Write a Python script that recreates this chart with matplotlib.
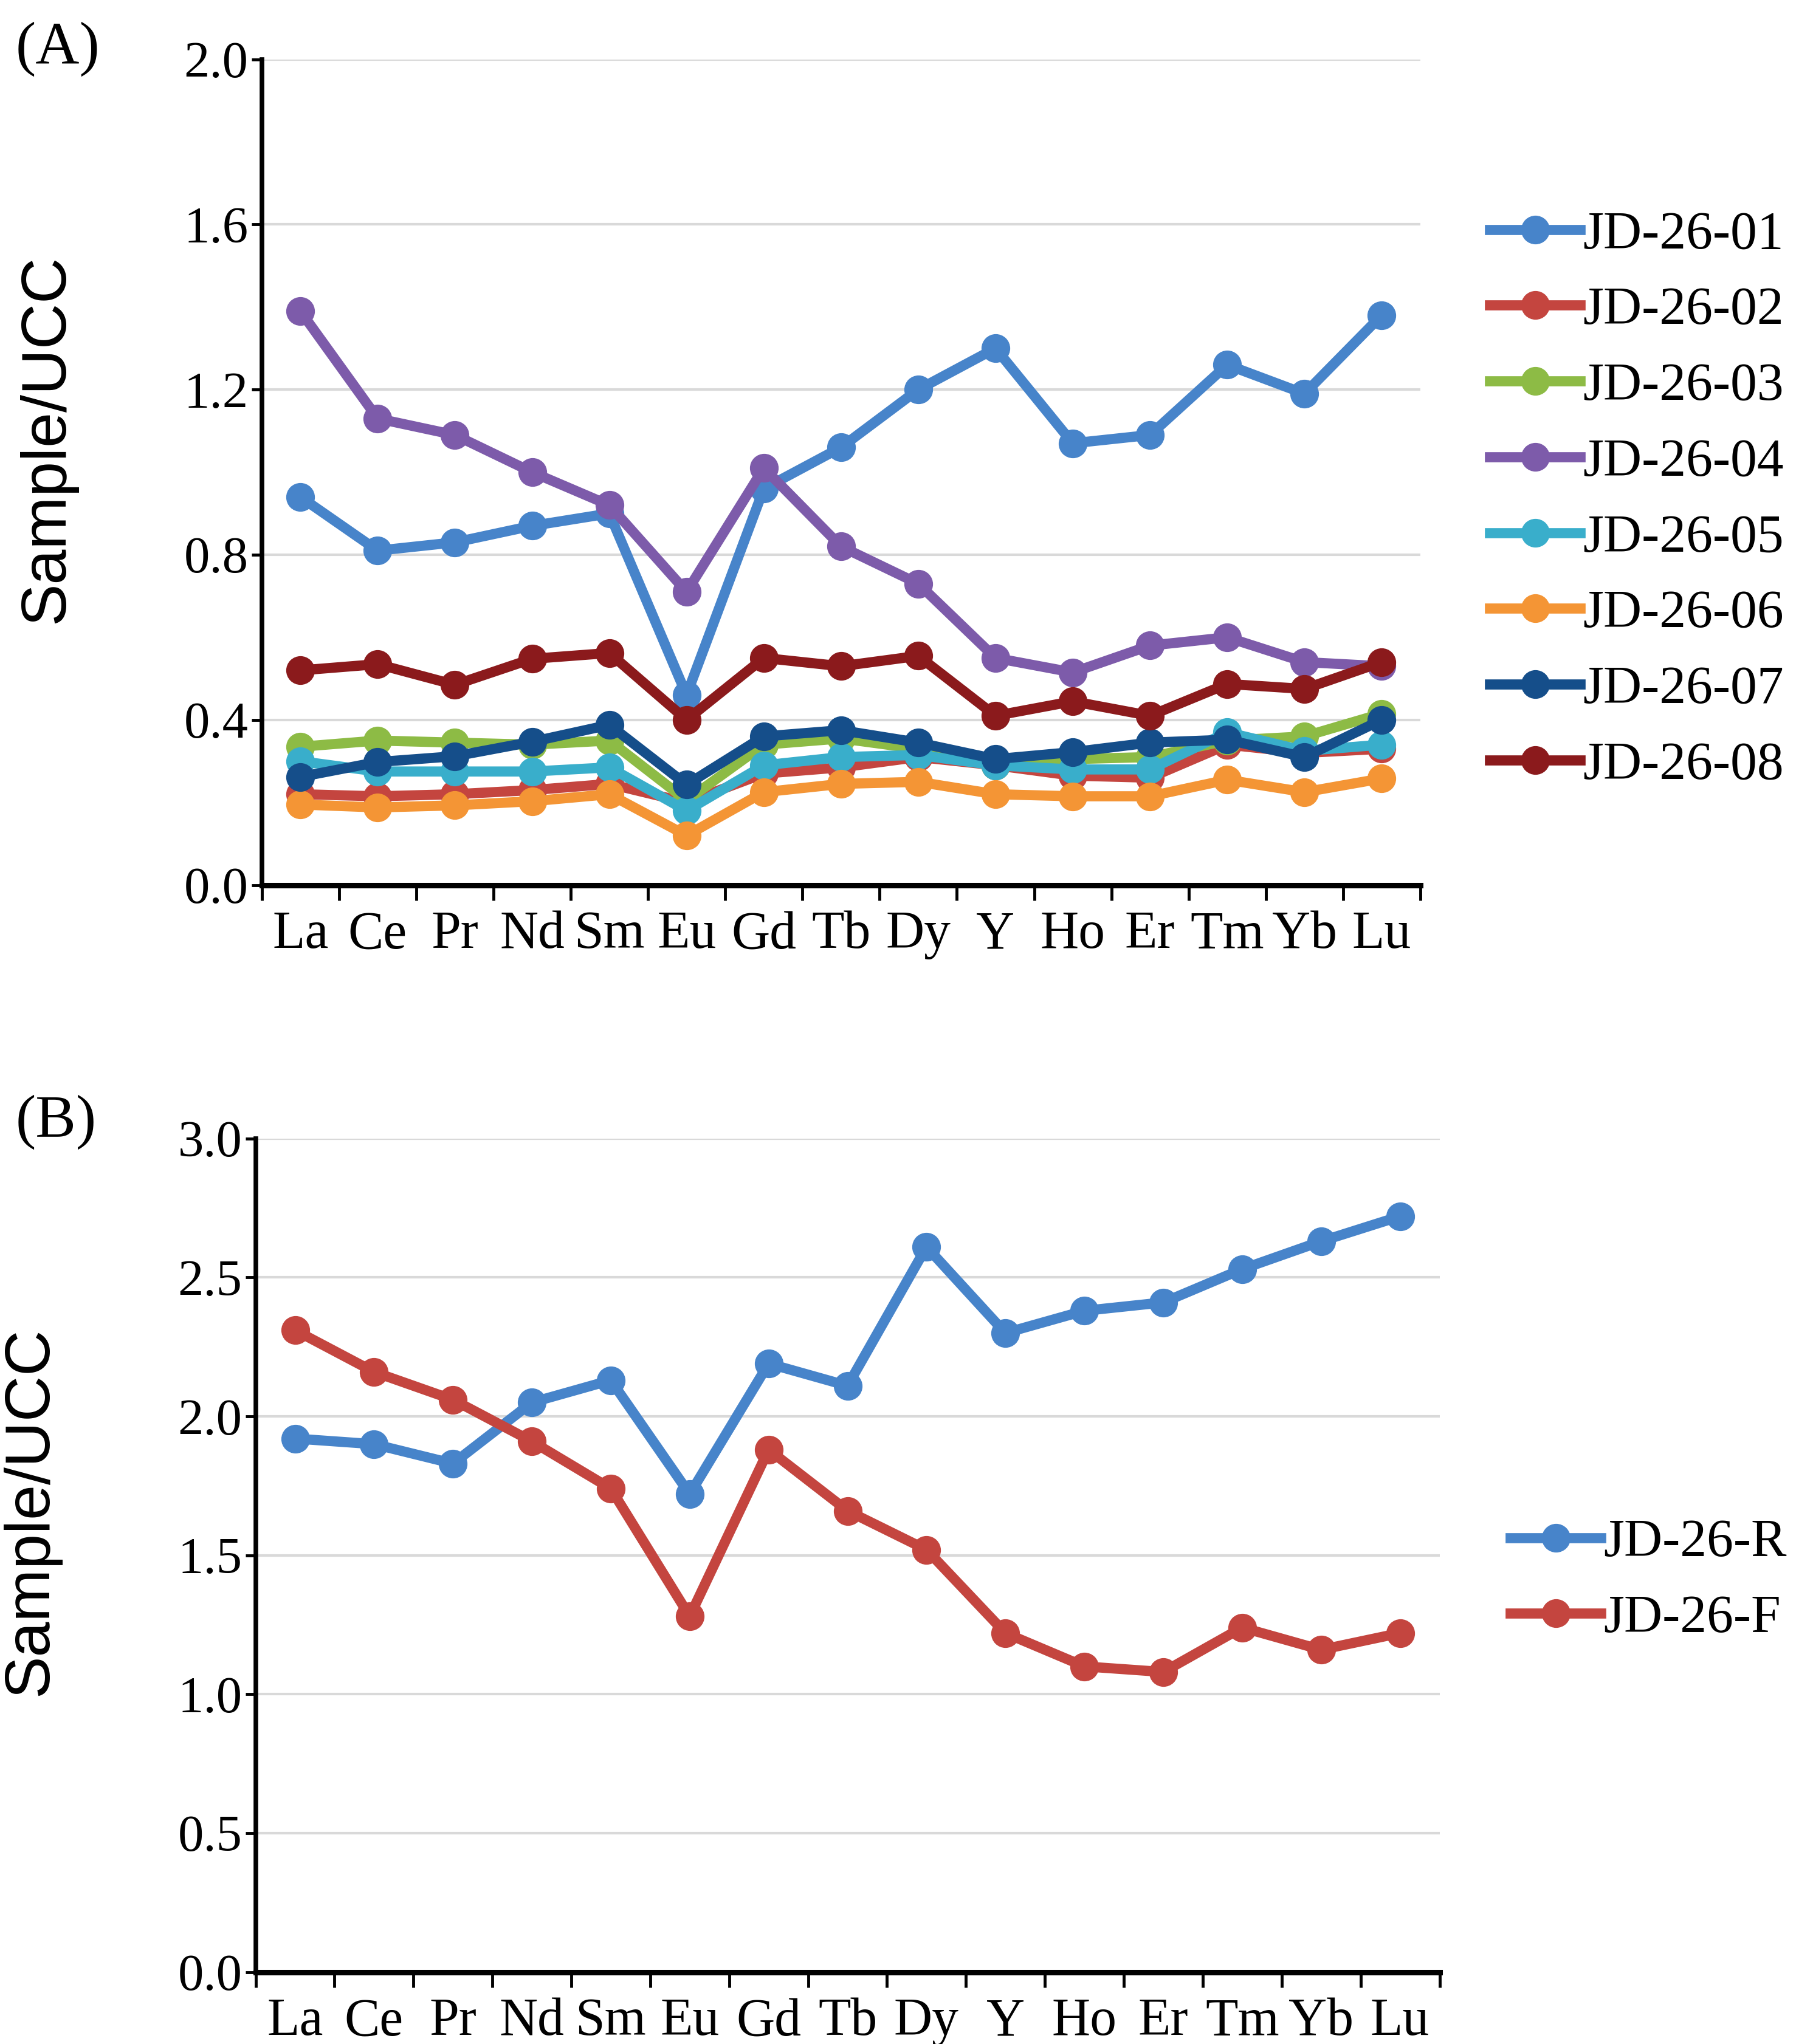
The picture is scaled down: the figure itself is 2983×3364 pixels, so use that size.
import matplotlib
matplotlib.use('Agg')
import matplotlib.pyplot as plt
from matplotlib.ticker import MultipleLocator, FixedLocator

# element order on the x axis
elements = ['La', 'Ce', 'Pr', 'Nd', 'Sm', 'Eu', 'Gd', 'Tb', 'Dy', 'Y', 'Ho', 'Er', 'Tm', 'Yb', 'Lu']

# panel A: UCC-normalised values per sample
jd_01 = [0.94, 0.81, 0.83, 0.87, 0.90, 0.46, 0.96, 1.06, 1.20, 1.30, 1.07, 1.09, 1.26, 1.19, 1.38]
jd_02 = [0.22, 0.215, 0.22, 0.23, 0.245, 0.20, 0.27, 0.285, 0.31, 0.29, 0.265, 0.26, 0.34, 0.32, 0.33]
jd_03 = [0.335, 0.35, 0.345, 0.34, 0.35, 0.205, 0.34, 0.355, 0.33, 0.29, 0.305, 0.31, 0.35, 0.36, 0.415]
jd_04 = [1.39, 1.13, 1.09, 1.00, 0.92, 0.71, 1.01, 0.82, 0.73, 0.55, 0.515, 0.58, 0.60, 0.54, 0.53]
jd_05 = [0.30, 0.275, 0.275, 0.275, 0.285, 0.18, 0.29, 0.31, 0.315, 0.29, 0.28, 0.28, 0.37, 0.325, 0.34]
jd_06 = [0.195, 0.188, 0.193, 0.203, 0.22, 0.12, 0.225, 0.245, 0.25, 0.22, 0.215, 0.215, 0.255, 0.225, 0.258]
jd_07 = [0.262, 0.298, 0.312, 0.347, 0.388, 0.243, 0.36, 0.375, 0.345, 0.305, 0.322, 0.345, 0.352, 0.31, 0.40]
jd_08 = [0.52, 0.535, 0.485, 0.548, 0.562, 0.40, 0.55, 0.53, 0.555, 0.41, 0.445, 0.41, 0.487, 0.475, 0.54]

names_a = ['JD-26-01', 'JD-26-02', 'JD-26-03', 'JD-26-04', 'JD-26-05', 'JD-26-06', 'JD-26-07', 'JD-26-08']
colors_a = ['#4784CA', '#C4453F', '#8DBB45', '#7D5BAA', '#39AECB', '#F49535', '#154E8A', '#8B1A1C']

# panel B
jd_r = [1.92, 1.90, 1.83, 2.05, 2.13, 1.72, 2.19, 2.11, 2.61, 2.30, 2.38, 2.41, 2.53, 2.63, 2.72]
jd_f = [2.31, 2.16, 2.06, 1.91, 1.74, 1.28, 1.88, 1.66, 1.52, 1.22, 1.10, 1.08, 1.24, 1.16, 1.22]
names_b = ['JD-26-R', 'JD-26-F']
colors_b = ['#4784CA', '#C4453F']

serif = ['Liberation Serif', 'DejaVu Serif']
sans = ['Liberation Sans', 'DejaVu Sans']
plt.rcParams['font.family'] = serif

fig = plt.figure(figsize=(29.83, 33.64), dpi=100)
ax_a = fig.add_axes([0.1444, 0.567, 0.639, 0.404])
ax_b = fig.add_axes([0.141, 0.0352, 0.653, 0.4078])

x = list(range(len(elements)))


def style_axis(ax, ymax, ystep):
    ax.set_xlim(-0.5, len(elements) - 0.5)
    ax.set_ylim(0, ymax)
    ax.yaxis.set_major_locator(MultipleLocator(ystep))
    ax.yaxis.set_major_formatter(plt.FuncFormatter(lambda v, p: '%.1f' % v))
    ax.set_xticks(x)
    ax.set_xticklabels(elements, fontsize=63)
    ax.xaxis.set_minor_locator(FixedLocator([i + 0.5 for i in range(-1, len(elements))]))
    ax.tick_params(axis='x', which='major', length=0, pad=30)
    ax.tick_params(axis='x', which='minor', length=18, width=3.5, direction='out')
    ax.tick_params(axis='y', which='major', length=12, width=3.5, direction='out', labelsize=61, pad=4)
    for side in ['top', 'right']:
        ax.spines[side].set_visible(False)
    ax.spines['left'].set_linewidth(5.5)
    ax.spines['bottom'].set_linewidth(6.5)
    ax.grid(axis='y', color='#d9d9d9', linewidth=3)
    ax.set_axisbelow(True)
    ax.set_ylabel('Sample/UCC', fontsize=75, family=sans)


def add_legend(ax, y_mid):
    ax.legend(loc='center left', bbox_to_anchor=(1.06, y_mid), frameon=False,
              fontsize=63, handlelength=1.7, handletextpad=0.05, labelspacing=0.5,
              borderpad=0, borderaxespad=0)


series_a = [jd_01, jd_02, jd_03, jd_04, jd_05, jd_06, jd_07, jd_08]
for vals, name, c in zip(series_a, names_a, colors_a):
    ax_a.plot(x, vals, color=c, marker='o', markersize=33, linewidth=12,
              label=name, clip_on=False)
style_axis(ax_a, 2.0, 0.4)
ax_a.yaxis.set_label_coords(-0.16, 0.54)
add_legend(ax_a, 0.466)

for vals, name, c in zip([jd_r, jd_f], names_b, colors_b):
    ax_b.plot(x, vals, color=c, marker='o', markersize=33, linewidth=12,
              label=name, clip_on=False)
style_axis(ax_b, 3.0, 0.5)
ax_b.yaxis.set_label_coords(-0.165, 0.553)
add_legend(ax_b, 0.469)

fig.text(0.0087, 0.976, '(A)', fontsize=72, va='center', ha='left')
fig.text(0.0087, 0.451, '(B)', fontsize=72, va='center', ha='left')

fig.savefig('out.png', dpi=100, facecolor='white')
